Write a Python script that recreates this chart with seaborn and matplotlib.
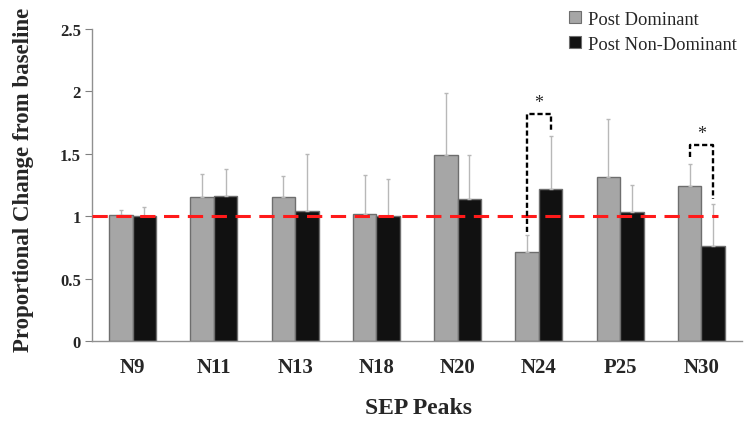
import seaborn as sns
import numpy as np
import pandas as pd
import matplotlib.pyplot as plt
from matplotlib.patches import Patch

peaks = ['N9', 'N11', 'N13', 'N18', 'N20', 'N24', 'P25', 'N30']
dominant = [1.01, 1.15, 1.15, 1.02, 1.49, 0.71, 1.31, 1.24]
dominant_err = [0.04, 0.19, 0.17, 0.31, 0.50, 0.14, 0.47, 0.18]
non_dominant = [1.00, 1.16, 1.04, 1.00, 1.14, 1.22, 1.03, 0.76]
non_dominant_err = [0.07, 0.22, 0.46, 0.30, 0.35, 0.42, 0.22, 0.34]
groups = ['Post Dominant', 'Post Non-Dominant']

# significance brackets: peak, left foot, top, right foot
sig_peaks = ['N24', 'N30']
sig_left = [0.87, 1.47]
sig_top = [1.82, 1.57]
sig_right = [1.69, 1.14]

df = pd.DataFrame({
    'Peak': peaks * 2,
    'Value': dominant + non_dominant,
    'Group': [groups[0]] * len(peaks) + [groups[1]] * len(peaks),
})

sns.set_style('white')
plt.rcParams['font.family'] = ['Liberation Serif', 'DejaVu Serif']

fig = plt.figure(figsize=(7.48, 4.27), dpi=100)
ax = fig.add_axes([0.123, 0.199, 0.869, 0.731])

colors = ['#a6a6a6', '#111111']
sns.barplot(data=df, x='Peak', y='Value', hue='Group', palette=colors,
            width=0.58, errorbar=None, legend=False, ax=ax,
            edgecolor='#6e6e6e', linewidth=1.0)

# one-sided error bars
errs = [dominant_err, non_dominant_err]
vals = [dominant, non_dominant]
centers = []
for cont, v, e in zip(ax.containers, vals, errs):
    xs = [b.get_x() + b.get_width() / 2 for b in cont]
    centers.append(xs)
    ax.errorbar(xs, v, yerr=[np.zeros(len(e)), e], fmt='none',
                ecolor='#b8b8b8', elinewidth=1.0, capsize=1.5, capthick=1.0,
                zorder=1)

ax.axhline(1, xmin=0, xmax=0.963, color='#ff1a1a', lw=2.2,
           dashes=(5, 2.8), zorder=5)

for p, l, t, r in zip(sig_peaks, sig_left, sig_top, sig_right):
    i = peaks.index(p)
    x0, x1 = centers[0][i], centers[1][i]
    ax.plot([x0, x0, x1, x1], [l, t, t, r], color='black', lw=1.7,
            ls=(0, (2.2, 1.2)), zorder=6)
    ax.text((x0 + x1) / 2, t + 0.025, '*', ha='center', va='bottom',
            fontsize=13, zorder=6)

ax.set_ylim(0, 2.5)
ax.set_xlim(-0.5, 7.5)
ax.set_yticks([0, 0.5, 1, 1.5, 2, 2.5])
ax.set_yticklabels(['0', '0.5', '1', '1.5', '2', '2.5'])
ax.tick_params(axis='y', which='both', left=True, length=5, width=0.8,
               color='#808080', labelsize=12, pad=3)
ax.tick_params(axis='x', bottom=False, labelsize=15, pad=8)
for lab in ax.get_xticklabels() + ax.get_yticklabels():
    lab.set_fontweight('bold')

for s in ['top', 'right']:
    ax.spines[s].set_visible(False)
for s in ['left', 'bottom']:
    ax.spines[s].set_color('#909090')
    ax.spines[s].set_linewidth(1.0)

ax.set_ylabel('Proportional Change from baseline', fontsize=16.5,
              fontweight='bold', va='center')
ax.yaxis.set_label_coords(-0.105, 0.52)
ax.set_xlabel('SEP Peaks', fontsize=17, fontweight='bold', va='center')
ax.xaxis.set_label_coords(0.503, -0.212)

handles = [Patch(facecolor=c, edgecolor='#6e6e6e', lw=0.8) for c in colors]
fig.legend(handles, groups, loc='upper left', frameon=False,
           bbox_to_anchor=(0.738, 1.012), fontsize=13.3, handlelength=0.65,
           handleheight=0.65, handletextpad=0.4, labelspacing=0.45)

fig.savefig('out.png', dpi=100)
